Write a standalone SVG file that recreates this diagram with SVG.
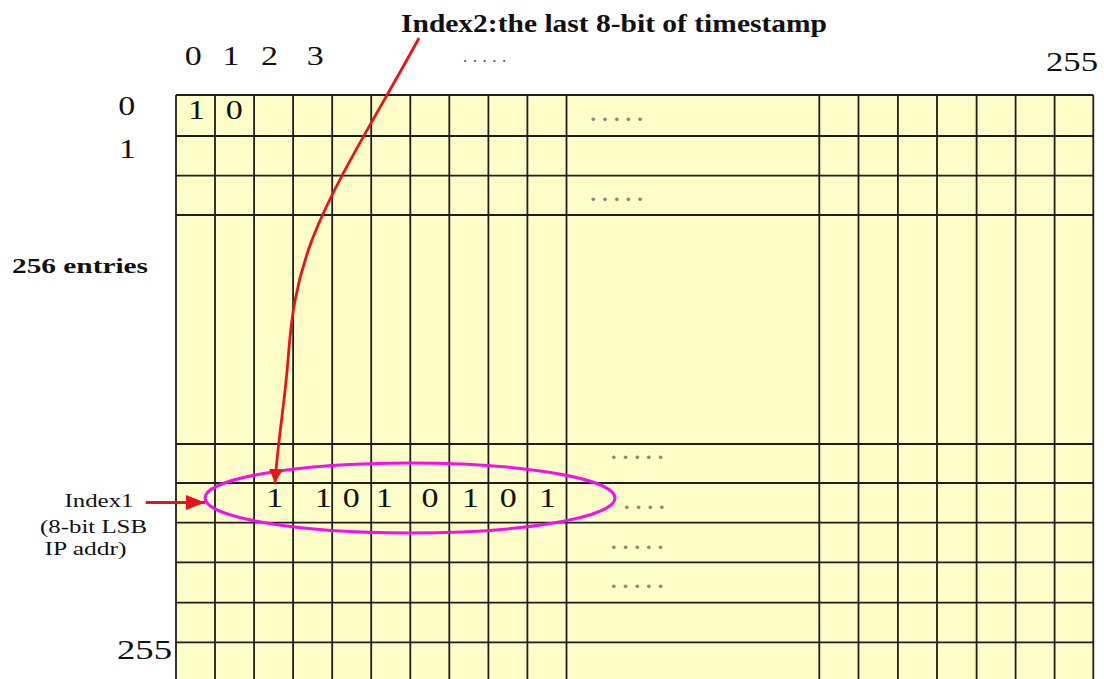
<svg xmlns="http://www.w3.org/2000/svg" width="1104" height="679" viewBox="0 0 1104 679">
<style>
text{font-family:'Liberation Serif','Times New Roman',Times,serif}
.t{fill:#111}
.b{font-weight:bold}
.g{stroke:#1e1e1e;stroke-width:1.8;fill:none}
.d{font-size:22px;font-weight:bold;fill:#8a8a6a;letter-spacing:6.2px}
.red{stroke:#e8141c;stroke-width:2.8;fill:none}
</style>
<defs>
<marker id="ahA" markerUnits="userSpaceOnUse" markerWidth="14" markerHeight="14" viewBox="0 0 14 14" refX="14" refY="7" orient="auto"><path d="M0,0 L14,7 L0,14 z" fill="#e8141c"/></marker>
<marker id="ahB" markerUnits="userSpaceOnUse" markerWidth="19" markerHeight="15" viewBox="0 0 19 15" refX="19" refY="7.5" orient="auto"><path d="M0,0 L19,7.5 L0,15 z" fill="#e8141c"/></marker>
</defs>
<rect width="1104" height="679" fill="#ffffff"/>
<g id="table">
<rect x="176" y="95" width="917.3" height="600" fill="#fffdc8"/>
<path class="g" d="M176,95V690M215,95V690M254.1,95V690M293.1,95V690M332.2,95V690M371.2,95V690M410.3,95V690M449.3,95V690M488.4,95V690M527.4,95V690M566.5,95V690M819.3,95V690M858.5,95V690M897.9,95V690M937,95V690M976.6,95V690M1015.6,95V690M1054.6,95V690M1093.3,95V690"/>
<path class="g" d="M176,95H1093.3M176,136H1093.3M176,175.7H1093.3M176,215H1093.3M176,444H1093.3M176,483H1093.3M176,522.7H1093.3M176,562.3H1093.3M176,602.7H1093.3M176,642.3H1093.3"/>
</g>
<g id="dots" font-family="Liberation Serif, serif">
<text class="d" x="590.5" y="121">.....</text>
<text class="d" x="590.5" y="201">.....</text>
<text class="d" x="611" y="459">.....</text>
<text class="d" x="624" y="509">....</text>
<text class="d" x="611" y="549">.....</text>
<text class="d" x="611" y="588">.....</text>
<text x="463" y="62" font-size="17" letter-spacing="5.5" fill="#555">.....</text>
</g>
<g id="cells" class="t" font-family="Liberation Serif, serif" font-size="27">
<text x="188" y="119.3" textLength="17" lengthAdjust="spacingAndGlyphs">1</text>
<text x="225.8" y="119.3" textLength="17" lengthAdjust="spacingAndGlyphs">0</text>
<text x="266.2" y="507.3" textLength="17" lengthAdjust="spacingAndGlyphs">1</text>
<text x="314.8" y="507.3" textLength="17" lengthAdjust="spacingAndGlyphs">1</text>
<text x="342.8" y="507.3" textLength="17" lengthAdjust="spacingAndGlyphs">0</text>
<text x="375.7" y="507.3" textLength="17" lengthAdjust="spacingAndGlyphs">1</text>
<text x="421.5" y="507.3" textLength="17" lengthAdjust="spacingAndGlyphs">0</text>
<text x="462" y="507.3" textLength="17" lengthAdjust="spacingAndGlyphs">1</text>
<text x="499.8" y="507.3" textLength="17" lengthAdjust="spacingAndGlyphs">0</text>
<text x="539" y="507.3" textLength="17" lengthAdjust="spacingAndGlyphs">1</text>
</g>
<g id="col-labels" class="t" font-family="Liberation Serif, serif" font-size="27">
<text x="184.8" y="65" textLength="17" lengthAdjust="spacingAndGlyphs">0</text>
<text x="222.5" y="65" textLength="17" lengthAdjust="spacingAndGlyphs">1</text>
<text x="261" y="65" textLength="17" lengthAdjust="spacingAndGlyphs">2</text>
<text x="306.8" y="65" textLength="17" lengthAdjust="spacingAndGlyphs">3</text>
<text x="1046" y="71" textLength="52" lengthAdjust="spacingAndGlyphs">255</text>
</g>
<g id="row-labels" class="t" font-family="Liberation Serif, serif" font-size="27">
<text x="118.2" y="115" textLength="17" lengthAdjust="spacingAndGlyphs">0</text>
<text x="119" y="158.3" textLength="17" lengthAdjust="spacingAndGlyphs">1</text>
<text x="117" y="659.3" textLength="55" lengthAdjust="spacingAndGlyphs">255</text>
<text class="b" x="12" y="273.3" font-size="22" textLength="136" lengthAdjust="spacingAndGlyphs">256 entries</text>
</g>
<g id="index1-label" class="t" font-family="Liberation Serif, serif" font-size="19">
<text x="64.5" y="507" textLength="69" lengthAdjust="spacingAndGlyphs">Index1</text>
<text x="40" y="533" textLength="107" lengthAdjust="spacingAndGlyphs">(8-bit LSB</text>
<text x="44.5" y="555" textLength="82" lengthAdjust="spacingAndGlyphs">IP addr)</text>
</g>
<g id="index2-label" class="t" font-family="Liberation Serif, serif">
<text class="b" x="401" y="32" font-size="25" textLength="426" lengthAdjust="spacingAndGlyphs">Index2:the last 8-bit of timestamp</text>
</g>
<g id="selection">
<ellipse cx="410" cy="498" rx="205" ry="35" fill="none" stroke="#f010f0" stroke-width="3"/>
</g>
<g id="connectors">
<path class="red" d="M419,38 C380,110 335,180 312,240 C295,285 291,320 288,360 C285,400 278,440 275,483" marker-end="url(#ahA)"/>
<path class="red" d="M145.7,502.5 H205" marker-end="url(#ahB)"/>
</g>
</svg>
